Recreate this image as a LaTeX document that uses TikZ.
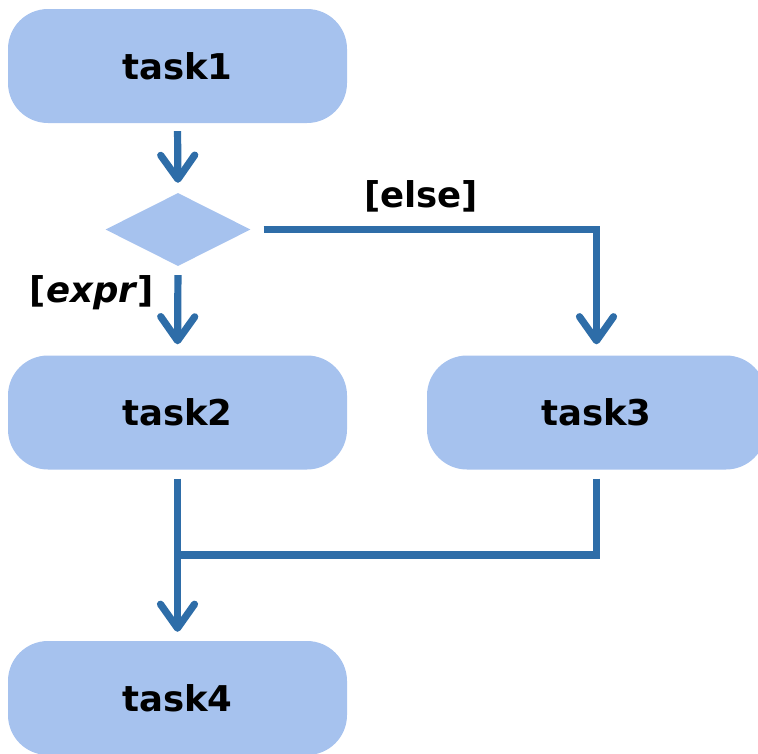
\documentclass[tikz,border=0pt]{standalone}
\usepackage{fontspec}
\setmainfont{DejaVu Sans}
\usetikzlibrary{shapes.geometric,arrows.meta}
\definecolor{boxfill}{RGB}{166,194,238}
\definecolor{linecol}{RGB}{46,109,168}
\begin{document}
\begin{tikzpicture}[x=1pt,y=-1pt,
  taskbox/.style={rectangle,rounded corners=40pt,fill=boxfill,draw=none,
    minimum width=339pt,minimum height=114pt,inner sep=0pt,
    font=\fontsize{35.5}{40}\selectfont\bfseries},
  decision/.style={diamond,fill=boxfill,draw=none,inner sep=0pt,
    minimum width=145pt,minimum height=73pt},
  lbl/.style={font=\fontsize{35.5}{40}\selectfont\bfseries,inner sep=0pt},
  wire/.style={draw=linecol,line width=7.2pt},
  conn/.style={wire,-{Straight Barb[length=24pt,width=34pt,round]}}]
\useasboundingbox (0,0) rectangle (758,753);
\node[taskbox] (t1) at (177.5,66) {task1};
\node[decision] (d) at (178,229.5) {};
\node[taskbox] (t2) at (177.5,412.5) {task2};
\node[taskbox] (t3) at (596.5,412.5) {task3};
\node[taskbox] (t4) at (177.5,698) {task4};
\coordinate (j) at (177.5,555);
\node[lbl] (le) at (421,196) {[else]};
\node[lbl] (lx) at (92,293) {[\textit{expr}]};
\draw[conn,shorten <=8pt,shorten >=10pt] (t1.south) -- (d.north);
\draw[conn,shorten <=9pt,shorten >=11pt] (d.south) -- (t2.north);
\draw[conn,shorten <=13pt,shorten >=11pt] (d.east) -| (t3.north);
\draw[wire,shorten <=9pt] (t3.south) |- (j);
\draw[conn,shorten <=9pt,shorten >=9pt] (t2.south) -- (t4.north);
\end{tikzpicture}
\end{document}
